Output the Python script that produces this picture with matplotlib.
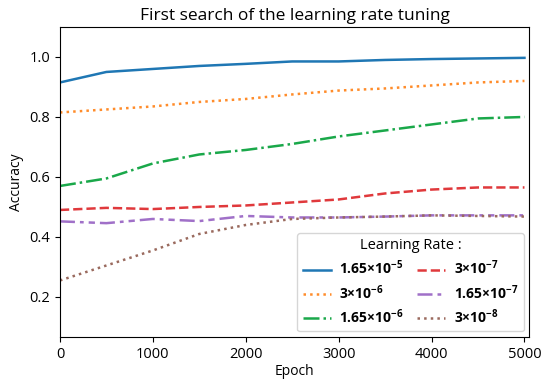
import matplotlib.pyplot as plt

plt.rcParams['font.family'] = ['Open Sans', 'DejaVu Sans']
plt.rcParams['mathtext.default'] = 'regular'

epochs = [0, 500, 1000, 1500, 2000, 2500, 3000, 3500, 4000, 4500, 5000]
lr_labels = ["1.65×10$^{-5}$", "3×10$^{-6}$", "1.65×10$^{-6}$",
             "3×10$^{-7}$", "1.65×10$^{-7}$", "3×10$^{-8}$"]
acc_165e5 = [0.915, 0.950, 0.960, 0.970, 0.977, 0.985, 0.985, 0.990, 0.993, 0.995, 0.997]
acc_3e6 = [0.815, 0.825, 0.835, 0.850, 0.860, 0.875, 0.888, 0.895, 0.905, 0.915, 0.920]
acc_165e6 = [0.570, 0.595, 0.645, 0.675, 0.690, 0.710, 0.735, 0.755, 0.775, 0.795, 0.800]
acc_3e7 = [0.490, 0.497, 0.493, 0.500, 0.505, 0.515, 0.525, 0.545, 0.558, 0.565, 0.565]
acc_165e7 = [0.452, 0.446, 0.460, 0.453, 0.470, 0.465, 0.465, 0.468, 0.472, 0.472, 0.472]
acc_3e8 = [0.255, 0.305, 0.355, 0.410, 0.440, 0.460, 0.465, 0.468, 0.472, 0.470, 0.468]

series = [acc_165e5, acc_3e6, acc_165e6, acc_3e7, acc_165e7, acc_3e8]
colors = ["#1f77b4", "#ff8c2a", "#1aa84a", "#e0393c", "#a070c8", "#9a6a5e"]
styles = ["-", ":", "-.", "--", (0, (6, 2, 1.5, 2, 2.5, 2)), ":"]

fig = plt.figure(figsize=(5.5, 3.85), dpi=100)
ax = fig.add_axes([0.109, 0.125, 0.853, 0.805])

for y, c, ls, lab in zip(series, colors, styles, lr_labels):
    ax.plot(epochs, y, color=c, linestyle=ls, linewidth=1.8, label=lab)

ax.set_xlim(0, 5050)
ax.set_ylim(0.067, 1.1)
ax.set_yticks([0.2, 0.4, 0.6, 0.8, 1.0])
ax.set_xticks([0, 1000, 2000, 3000, 4000, 5000])
ax.tick_params(labelsize=10.5)
ax.set_xlabel("Epoch", fontsize=10, labelpad=2)
ax.set_ylabel("Accuracy", fontsize=10)
ax.set_title("First search of the learning rate tuning", fontsize=12.5, pad=5)

leg = ax.legend(loc="lower right", ncol=2, title="Learning Rate :",
                prop={'weight': 'bold', 'size': 10}, title_fontsize=10.5,
                handlelength=2.0, handletextpad=0.6, columnspacing=1.0,
                borderaxespad=0.4, labelspacing=0.4)

fig.savefig("out.png", dpi=100)
